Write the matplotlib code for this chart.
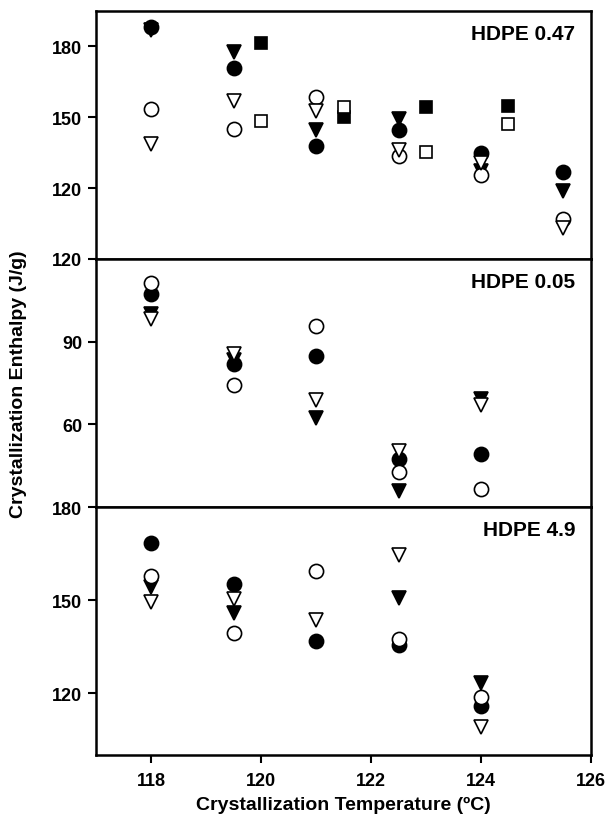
import numpy as np
import matplotlib
matplotlib.use('Agg')
import matplotlib.pyplot as plt

plt.rcParams['font.family'] = ['Liberation Sans', 'DejaVu Sans']
plt.rcParams['font.weight'] = 'bold'

# crystallization temperatures (degC)
temps = [118, 119.5, 121, 122.5, 124, 125.5]
sq_temps = [120, 121.5, 123, 124.5]
temps5 = [118, 119.5, 121, 122.5, 124]

# HDPE 0.47
top_filled_circle = [188.2, 170.9, 137.9, 144.7, 134.9, 126.9]
top_open_circle = [153.4, 145.0, 158.7, 133.5, 125.7, 106.8]
top_filled_tri = [187.0, 177.6, 144.7, 149.3, 127.2, 118.7]
top_open_tri = [138.8, 156.9, 152.7, 136.2, 130.6, 103.3]
top_filled_sq = [181.6, 150.0, 154.2, 154.9]
top_open_sq = [148.6, 154.4, 135.3, 147.1]

# HDPE 0.05
mid_filled_circle = [107.4, 81.8, 84.9, 47.4, 49.2]
mid_open_circle = [111.3, 74.3, 95.7, 42.7, 36.4]
mid_filled_tri = [100.0, 83.5, 62.2, 35.8, 69.2]
mid_open_tri = [98.3, 85.6, 68.8, 50.2, 67.2]

# HDPE 4.9
bot_filled_circle = [168.5, 155.1, 136.7, 135.4, 115.8]
bot_open_circle = [157.8, 139.4, 159.5, 137.5, 118.7]
bot_filled_tri = [154.1, 145.8, np.nan, 150.6, 123.2]
bot_open_tri = [149.5, 150.3, 143.6, 164.4, 109.0]

panel_names = ['HDPE 0.47', 'HDPE 0.05', 'HDPE 4.9']
panel_ylim = [(90, 195), (30, 120), (100, 180)]
panel_yticks = [[120, 150, 180], [60, 90, 120], [120, 150, 180]]

fig = plt.figure(figsize=(6.08, 8.2), dpi=100)
left, right, top, bottom = 0.158, 0.972, 0.9854, 0.078
h = (top - bottom) / 3
axes = [fig.add_axes([left, top - (i + 1) * h, right - left, h]) for i in range(3)]


def pts(ax, x, y, marker, filled, ms=10.2):
    ax.plot(x, y, linestyle='none', marker=marker, markersize=ms,
            markerfacecolor='black' if filled else 'white',
            markeredgecolor='black', markeredgewidth=1.2, clip_on=False)


pts(axes[0], temps, top_filled_tri, 'v', True)
pts(axes[0], temps, top_filled_circle, 'o', True)
pts(axes[0], temps, top_open_circle, 'o', False)
pts(axes[0], temps, top_open_tri, 'v', False)
pts(axes[0], sq_temps, top_filled_sq, 's', True, ms=9)
pts(axes[0], sq_temps, top_open_sq, 's', False, ms=9)

pts(axes[1], temps5, mid_filled_tri, 'v', True)
pts(axes[1], temps5, mid_filled_circle, 'o', True)
pts(axes[1], temps5, mid_open_circle, 'o', False)
pts(axes[1], temps5, mid_open_tri, 'v', False)

pts(axes[2], temps5, bot_filled_tri, 'v', True)
pts(axes[2], temps5, bot_filled_circle, 'o', True)
pts(axes[2], temps5, bot_open_circle, 'o', False)
pts(axes[2], temps5, bot_open_tri, 'v', False)

for i, ax in enumerate(axes):
    ax.set_xlim(117, 126)
    ax.set_ylim(*panel_ylim[i])
    ax.set_yticks(panel_yticks[i])
    ax.set_xticks([118, 120, 122, 124, 126])
    for sp in ax.spines.values():
        sp.set_linewidth(1.8)
    ax.tick_params(axis='y', direction='out', length=6, width=1.5,
                   labelsize=13, pad=4)
    ax.tick_params(axis='x', direction='out', length=6, width=1.5,
                   labelsize=13, pad=6)
    if i < 2:
        ax.tick_params(axis='x', bottom=False, labelbottom=False)
    ax.text(0.968, 0.948, panel_names[i], transform=ax.transAxes,
            ha='right', va='top', fontsize=15, fontweight='bold')

axes[2].set_xlabel('Crystallization Temperature (\u00baC)', fontsize=14,
                   fontweight='bold', labelpad=5)
fig.text(0.03, (top + bottom) / 2, 'Crystallization Enthalpy (J/g)',
         rotation=90, ha='center', va='center', fontsize=14, fontweight='bold')

fig.savefig('out.png', dpi=100)
